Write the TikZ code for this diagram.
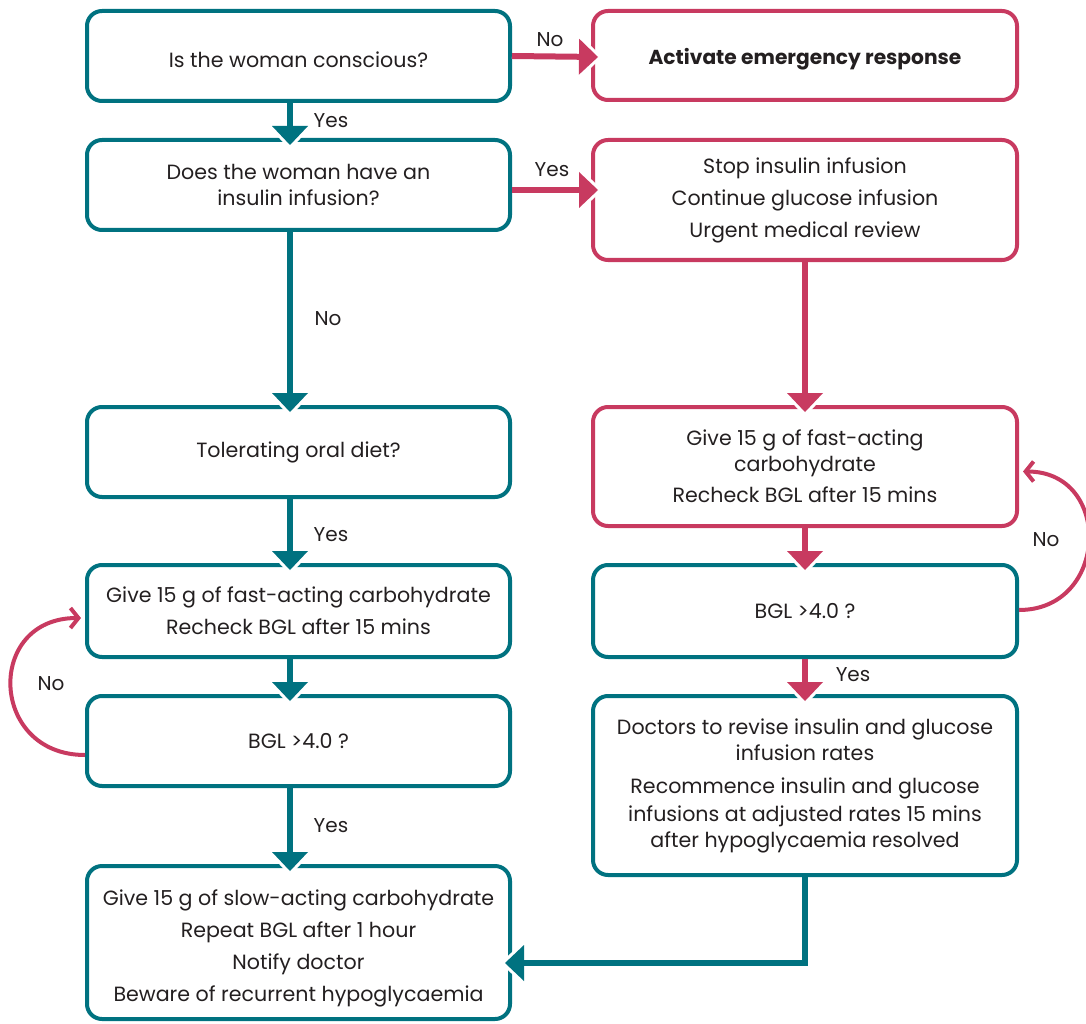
\documentclass[tikz,border=0pt]{standalone}
\usepackage{fontspec}
\setmainfont{Poppins}
\usetikzlibrary{arrows.meta,calc}
\definecolor{teal1}{RGB}{0,114,128}
\definecolor{crim}{RGB}{200,58,96}
\definecolor{ink}{RGB}{35,31,32}
\begin{document}
\begin{tikzpicture}[x=1pt,y=-1pt,
  txt/.style={align=center, inner sep=0pt, text=ink, font=\fontsize{20.6}{26}\selectfont},
  box/.style={txt, line width=4pt, rounded corners=15pt},
  tbox/.style={box, draw=teal1},
  cbox/.style={box, draw=crim},
  lw/.style={minimum width=423pt},
  rw/.style={minimum width=424pt},
  lbl/.style={text=ink, font=\fontsize{20}{22}\selectfont, inner sep=0pt},
  conn/.style={line width=6pt,
    preaction={draw=white, line width=6pt, -{Triangle[width=50pt,length=26pt,line width=0pt]}, shorten >=-4.4pt},
    -{Triangle[width=36pt,length=19pt,line width=0pt]}},
  tconn/.style={conn, draw=teal1},
  cconn/.style={conn, draw=crim},
  loopc/.style={draw=crim, line width=4pt, -{Straight Barb[length=8pt,width=20pt,line width=4pt]}}
]
\useasboundingbox (0,0) rectangle (1086,1024);

% left column
\node[tbox, lw, minimum height=90pt] (b1) at (298.5,56) {};
\node[txt] (b1t) at ($(b1)+(0,4)$) {Is the woman conscious?};
\node[tbox, lw, minimum height=90pt] (b2) at (298.5,185) {Does the woman have an\\insulin infusion?};
\node[tbox, lw, minimum height=90pt] (b3) at (298.5,452) {Tolerating oral diet?};
\node[tbox, lw, minimum height=92pt] (b4) at (298.5,611) {Give 15 g of fast-acting carbohydrate\\[6pt]Recheck BGL after 15 mins};
\node[tbox, lw, minimum height=90pt] (b5) at (298.5,741) {BGL >4.0 ?};
\node[tbox, lw, minimum height=153pt] (b6) at (298.5,942.5) {};
\node[txt] (b6t) at ($(b6)+(0,6)$) {Give 15 g of slow-acting carbohydrate\\[6pt]Repeat BGL after 1 hour\\[6pt]Notify doctor\\[6pt]Beware of recurrent hypoglycaemia};

% right column
\node[cbox, rw, minimum height=89pt] (r1) at (805,55.5) {};
\node[txt] (r1t) at ($(r1)+(0,4)$) {\fontsize{20.2}{26}\selectfont\bfseries Activate emergency response};
\node[cbox, rw, minimum height=120pt] (r2) at (805,200) {Stop insulin infusion\\[6pt]Continue glucose infusion\\[6pt]Urgent medical review};
\node[cbox, rw, minimum height=119pt] (r3) at (805,466.5) {Give 15 g of fast-acting\\carbohydrate\\[5pt]Recheck BGL after 15 mins};
\node[tbox, rw, minimum height=92pt] (r4) at (805,611) {BGL >4.0 ?};
\node[tbox, rw, minimum height=179pt] (r5) at (805,785.5) {Doctors to revise insulin and glucose\\infusion rates\\[7pt]Recommence insulin and glucose\\[2pt]infusions at adjusted rates 15 mins\\after hypoglycaemia resolved};

% straight connectors
\draw[cconn] (b1.east) -- ($(r1.west |- b1.east)+(7,1)$);
\draw[cconn] ($(b2.east)+(0,5)$) -- ($(r2.west |- b2.east)+(7,5)$);
\draw[tconn] ($(b1.south)+(-8.5,0)$) -- ($(b2.north)+(-8.5,7)$);
\draw[tconn] ($(b2.south)+(-8.5,0)$) -- ($(b3.north)+(-8.5,7)$);
\draw[tconn] ($(b3.south)+(-8.5,0)$) -- ($(b4.north)+(-8.5,7)$);
\draw[tconn] ($(b4.south)+(-8.5,0)$) -- ($(b5.north)+(-8.5,7)$);
\draw[tconn] ($(b5.south)+(-8.5,0)$) -- ($(b6.north)+(-8.5,7)$);
\draw[cconn] (r2.south) -- ($(r3.north)+(0,7)$);
\draw[cconn] (r3.south) -- ($(r4.north)+(0,7)$);
\draw[cconn] (r4.south) -- ($(r5.north)+(0,7)$);
\draw[tconn] (r5.south) |- ($(b6.east)+(-7,20.5)$);

% loops
\coordinate (la) at ($(b5.west)+(0,14)$);
\coordinate (lb) at ($(b4.west)+(-4,7)$);
\draw[loopc] (la) .. controls +(-96,0) and +(-96,0) .. (lb);
\coordinate (ra) at ($(r4.east)+(0,-1)$);
\coordinate (rb) at ($(r3.east)+(4,5)$);
\draw[loopc] (ra) .. controls +(90,0) and +(90,0) .. (rb);

% labels
\node[lbl] (l1) at (550,40) {No};
\node[lbl] (l2) at (331,121) {Yes};
\node[lbl] (l3) at (552,170) {Yes};
\node[lbl] (l4) at (328,319) {No};
\node[lbl] (l5) at (331,535) {Yes};
\node[lbl] (l6) at (331,826) {Yes};
\node[lbl] (l7) at (51,684) {No};
\node[lbl] (l8) at (1046,540) {No};
\node[lbl] (l9) at (853,675) {Yes};
\end{tikzpicture}
\end{document}
